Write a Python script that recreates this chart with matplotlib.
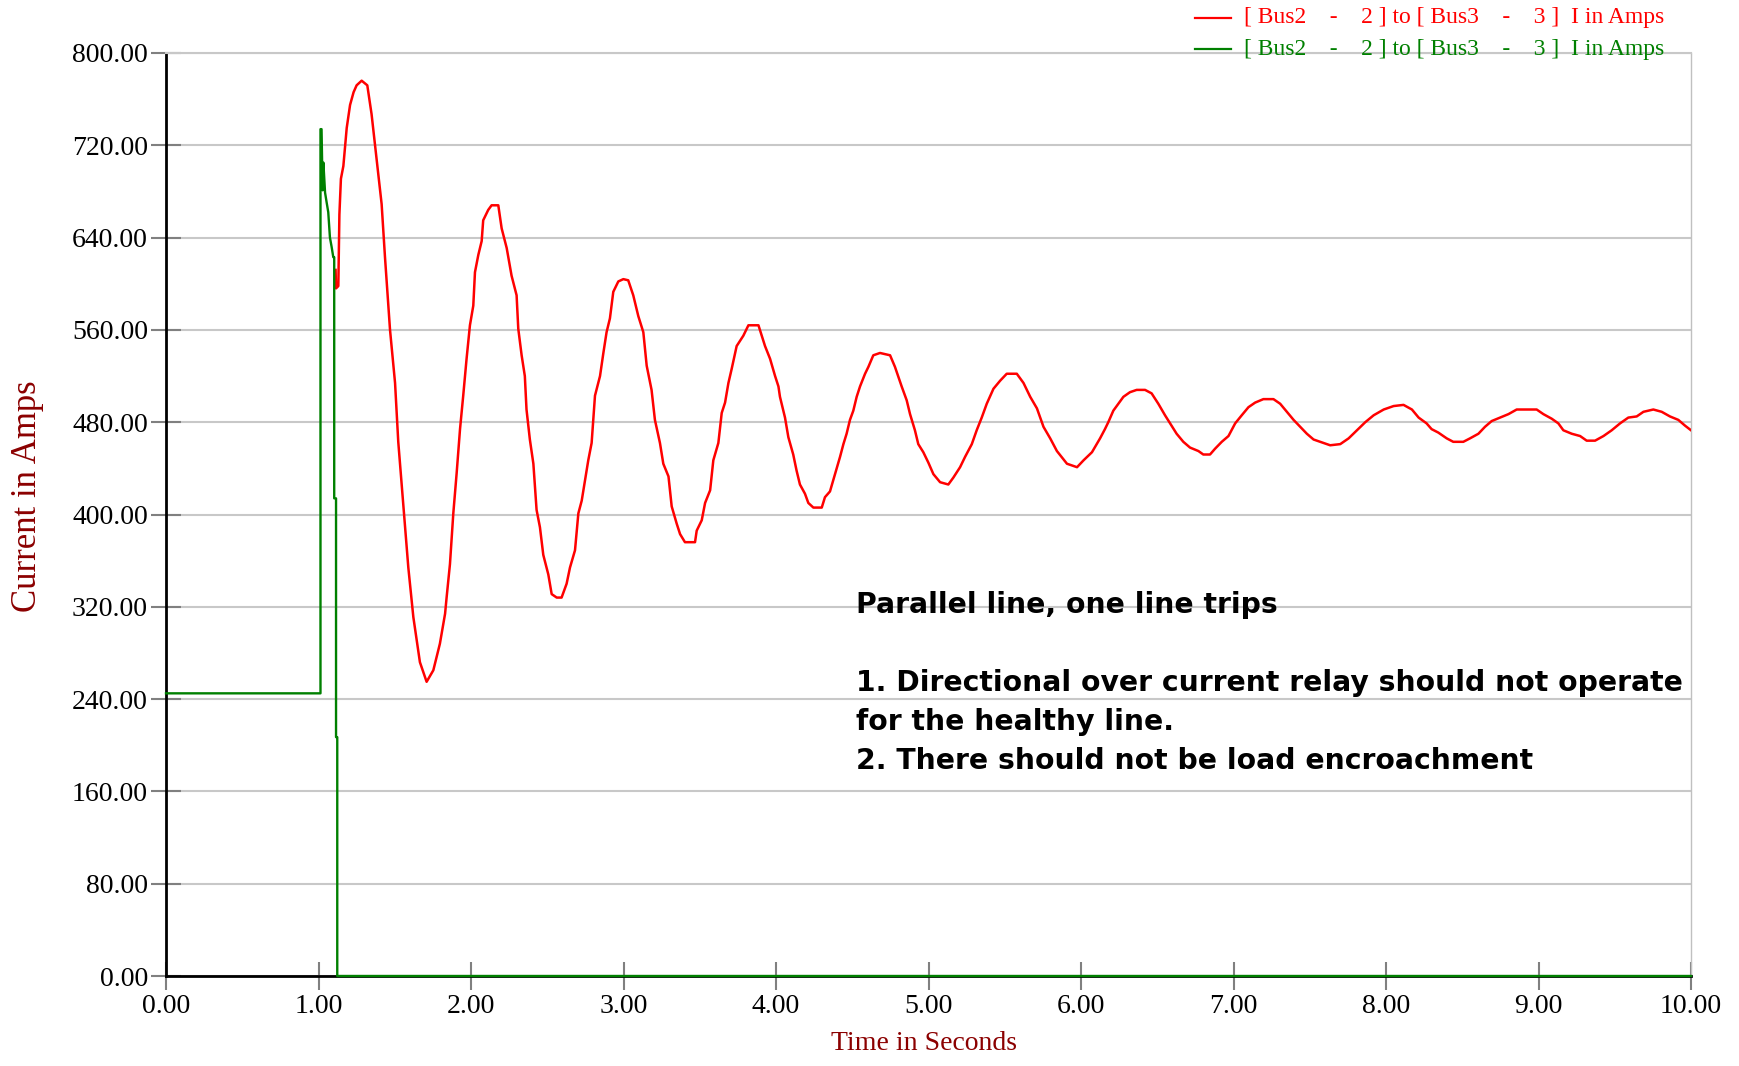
import matplotlib.pyplot as plt
from matplotlib.lines import Line2D

plt.rcParams["font.family"] = ["Liberation Serif", "DejaVu Serif"]

# red trace: current of the healthy parallel line
red_t = [1.112, 1.115, 1.130, 1.137, 1.147, 1.163, 1.185, 1.207, 1.230, 1.250,
         1.283, 1.320, 1.348, 1.381, 1.414, 1.436, 1.469, 1.502, 1.523, 1.556,
         1.589, 1.622, 1.665, 1.709, 1.753, 1.796, 1.830, 1.840, 1.862, 1.884,
         1.906, 1.928, 1.949, 1.971, 1.993, 2.015, 2.026, 2.048, 2.070, 2.080,
         2.113, 2.135, 2.179, 2.201, 2.234, 2.266, 2.299, 2.310, 2.332, 2.353,
         2.364, 2.386, 2.409, 2.430, 2.452, 2.474, 2.507, 2.529, 2.562, 2.594,
         2.627, 2.649, 2.682, 2.704, 2.726, 2.748, 2.769, 2.791, 2.813, 2.846,
         2.868, 2.889, 2.911, 2.933, 2.966, 2.999, 3.031, 3.064, 3.097, 3.130,
         3.152, 3.184, 3.206, 3.239, 3.261, 3.295, 3.316, 3.349, 3.371, 3.403,
         3.469, 3.480, 3.513, 3.535, 3.568, 3.589, 3.622, 3.644, 3.666, 3.688,
         3.709, 3.742, 3.786, 3.819, 3.885, 3.928, 3.961, 3.994, 4.016, 4.026,
         4.059, 4.081, 4.113, 4.135, 4.157, 4.190, 4.212, 4.245, 4.300, 4.321,
         4.354, 4.387, 4.420, 4.442, 4.463, 4.485, 4.507, 4.529, 4.551, 4.584,
         4.606, 4.638, 4.682, 4.748, 4.780, 4.824, 4.857, 4.879, 4.911, 4.933,
         4.966, 4.999, 5.032, 5.076, 5.130, 5.163, 5.207, 5.240, 5.284, 5.316,
         5.349, 5.382, 5.426, 5.470, 5.513, 5.579, 5.623, 5.667, 5.711, 5.754,
         5.798, 5.842, 5.908, 5.974, 6.017, 6.072, 6.125, 6.157, 6.179, 6.212,
         6.245, 6.278, 6.321, 6.365, 6.420, 6.463, 6.507, 6.551, 6.584, 6.627,
         6.671, 6.715, 6.770, 6.802, 6.846, 6.879, 6.923, 6.967, 7.011, 7.054,
         7.098, 7.142, 7.196, 7.262, 7.306, 7.350, 7.394, 7.437, 7.481, 7.525,
         7.569, 7.634, 7.700, 7.755, 7.809, 7.864, 7.919, 7.985, 8.050, 8.115,
         8.170, 8.214, 8.266, 8.299, 8.343, 8.398, 8.441, 8.507, 8.551, 8.606,
         8.649, 8.693, 8.748, 8.803, 8.857, 8.923, 8.988, 9.032, 9.087, 9.130,
         9.163, 9.218, 9.273, 9.316, 9.371, 9.426, 9.480, 9.535, 9.589, 9.644,
         9.688, 9.753, 9.808, 9.862, 9.917, 9.961, 10.000]
red_i = [612, 596, 598, 660, 691, 702, 735, 755, 766, 772,
         776, 772, 747, 708, 669, 623, 560, 514, 463, 409,
         354, 311, 272, 255, 265, 288, 314, 328, 357, 401,
         436, 474, 503, 535, 564, 581, 610, 625, 637, 655,
         664, 668, 668, 648, 631, 607, 590, 561, 538, 520,
         491, 465, 444, 404, 389, 365, 348, 331, 328, 328,
         340, 354, 369, 401, 412, 430, 447, 462, 503, 520,
         540, 558, 570, 593, 602, 604, 603, 590, 572, 558,
         529, 508, 482, 462, 444, 433, 407, 392, 383, 376,
         376, 386, 395, 410, 421, 447, 462, 488, 497, 514,
         526, 546, 555, 564, 564, 546, 535, 520, 511, 502,
         484, 467, 452, 438, 426, 418, 410, 406, 406, 415,
         420, 435, 450, 461, 470, 482, 490, 502, 511, 522,
         528, 538, 540, 538, 528, 511, 499, 487, 473, 461,
         454, 445, 435, 428, 426, 432, 441, 450, 461, 473,
         484, 496, 509, 516, 522, 522, 514, 502, 492, 476,
         466, 455, 444, 441, 447, 454, 466, 474, 480, 490,
         496, 502, 506, 508, 508, 505, 496, 486, 479, 470,
         463, 458, 455, 452, 452, 457, 463, 468, 479, 486,
         493, 497, 500, 500, 496, 489, 482, 476, 470, 465,
         463, 460, 461, 466, 473, 480, 486, 491, 494, 495,
         491, 484, 479, 474, 471, 466, 463, 463, 466, 470,
         476, 481, 484, 487, 491, 491, 491, 487, 483, 479,
         473, 470, 468, 464, 464, 468, 473, 479, 484, 485,
         489, 491, 489, 485, 482, 477, 473]

# green trace: current of the line that trips
green_t = [0.0, 1.013, 1.013, 1.020, 1.027, 1.032, 1.043, 1.054, 1.064, 1.075,
           1.086, 1.097, 1.103, 1.103, 1.115, 1.115, 1.123, 1.123, 10.0]
green_i = [245, 245, 734, 734, 681, 705, 679, 670, 662, 640,
           632, 623, 623, 414, 414, 207, 207, 0, 0]

y_ticks = [0, 80, 160, 240, 320, 400, 480, 560, 640, 720, 800]
x_ticks = [0, 1, 2, 3, 4, 5, 6, 7, 8, 9, 10]
legend_label = "[ Bus2    -    2 ] to [ Bus3    -    3 ]  I in Amps"
note_lines = ["Parallel line, one line trips",
              "",
              "1. Directional over current relay should not operate",
              "for the healthy line.",
              "2. There should not be load encroachment"]

W, H = 1739, 1066
fig = plt.figure(figsize=(W / 100, H / 100), dpi=100)
ax = fig.add_axes([166 / W, 1 - 976 / H, (1691 - 166) / W, (976 - 53) / H])

ax.plot(red_t, red_i, color="#ff0000", lw=1.8, zorder=3)
ax.plot(green_t, green_i, color="#008000", lw=1.7, zorder=4, clip_on=False)

ax.set_xlim(0, 10)
ax.set_ylim(0, 800)
ax.set_yticks(y_ticks)
ax.set_yticklabels([f"{v:.2f}" for v in y_ticks])
ax.set_xticks(x_ticks)
ax.set_xticklabels([f"{v:.2f}" for v in x_ticks])
ax.grid(axis="y", color="#c8c8c8", lw=1.5)
ax.set_axisbelow(True)

ax.spines["left"].set_color("black")
ax.spines["left"].set_linewidth(2)
ax.spines["bottom"].set_color("black")
ax.spines["bottom"].set_linewidth(2)
ax.spines["right"].set_color("#c0c0c0")
ax.spines["right"].set_linewidth(1)
ax.spines["top"].set_color("#c8c8c8")
ax.spines["top"].set_linewidth(1.5)

ax.tick_params(axis="y", direction="inout", length=22, width=1.5,
               color="#808080", pad=2, labelsize=20)
ax.tick_params(axis="x", direction="inout", length=20, width=1.5,
               color="#808080", pad=3, labelsize=20)

# axis titles
fig.text(28 / W, 1 - 496 / H, "Current in Amps", rotation=90, ha="center",
         va="center", color="#8b0000", fontsize=25)
fig.text(924 / W, 1 - 1043 / H, "Time in Seconds", ha="center", va="center",
         color="#8b0000", fontsize=20)

# legend rows at the top right
for color, ypix in [("#ff0000", 18), ("#008000", 49)]:
    y = 1 - ypix / H
    fig.add_artist(Line2D([1195 / W, 1231 / W], [y, y], color=color, lw=1.6))
    fig.text(1244 / W, y, legend_label, color=color, fontsize=17,
             ha="left", va="center")

# note text
for k, line in enumerate(note_lines):
    fig.text(856 / W, 1 - (605 + 39 * k) / H, line, fontsize=20.3,
             weight="bold", ha="left", va="center", family="DejaVu Sans")

fig.savefig("out.png", dpi=100)
